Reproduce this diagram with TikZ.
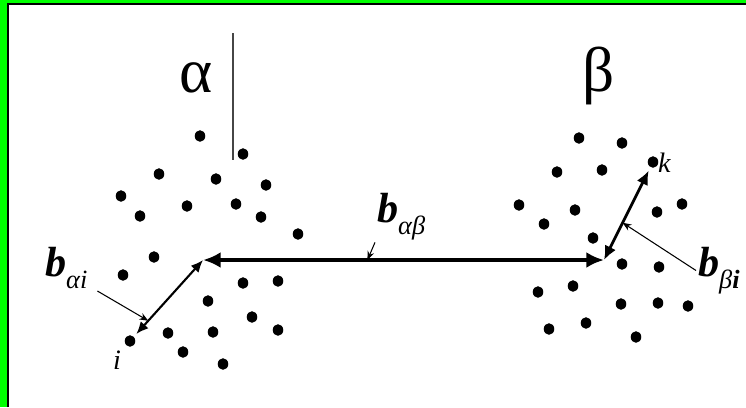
\documentclass[tikz,border=0pt]{standalone}
\usepackage{fontspec}
\setmainfont{Liberation Serif}
\usetikzlibrary{arrows.meta,calc,shapes.geometric}
\definecolor{framegreen}{RGB}{0,255,0}
\definecolor{rulegray}{RGB}{70,70,70}

\begin{document}
\begin{tikzpicture}[x=0.02cm,y=-0.02cm,
  atom/.style={ellipse,fill=black,inner sep=0pt,minimum width=6pt,minimum height=6.6pt},
  greek/.style={font=\fontsize{36}{40}\selectfont,inner sep=1pt},
  vlabel/.style={font=\fontsize{24}{28}\selectfont,inner sep=1pt,anchor=base west},
  slabel/.style={font=\fontsize{16}{18}\selectfont\itshape,inner sep=1pt},
  pointer/.style={->,>={Stealth[length=5pt,width=4pt]},line width=0.6pt}]
  \useasboundingbox (0,0) rectangle (746,407);
  % frame
  \fill[framegreen] (0,0) rectangle (746,3.5);
  \fill[framegreen] (0,0) rectangle (7.5,407);
  \draw[line width=0.8pt] (8,407) -- (8,4) -- (746,4);

  \node[greek] (alpha) at (196,78) {α};
  \node[greek] (beta) at (599,76) {β};
  \draw[rulegray,line width=0.7pt] (233,33) -- (233,160);

  % cluster alpha
  \foreach \x/\y [count=\n] in {200/136, 243/154, 159/174, 216/179, 266/185,
      121/196, 187/206, 236/204, 140/216, 261/217, 298/234, 154/257, 123/275,
      243/283, 278/281, 208/301, 252/317, 278/330, 168/333, 213/332, 183/352,
      223/364}
    \node[atom] (a\n) at (\x,\y) {};
  \node[atom] (i) at (130,341) {};
  % cluster beta
  \foreach \x/\y [count=\n] in {579/138, 622/143, 557/172, 602/170, 519/205,
      575/210, 657/212, 682/204, 544/224, 593/238, 622/264, 659/267, 538/292,
      573/286, 621/304, 658/303, 688/306, 549/329, 586/323, 636/337}
    \node[atom] (b\n) at (\x,\y) {};
  \node[atom] (k) at (653,162) {};

  \node[slabel] (ilab) at (117,360) {i};
  \node[slabel,anchor=west] (klab) at (656,163) {k};

  \coordinate (ca) at (203,260);
  \coordinate (cb) at (604,260);
  \draw[line width=2.2pt,{Latex[length=10pt,width=9pt]}-{Latex[length=10pt,width=9pt]}] (ca) -- (cb);
  \draw[line width=1.2pt,{Latex[length=7pt,width=6pt]}-{Latex[length=7pt,width=6pt]},
        shorten <=2pt] (i) -- (ca);
  \draw[line width=1.6pt,{Latex[length=8pt,width=7pt]}-{Latex[length=8pt,width=7pt]},
        shorten >=2pt] (cb) -- (k);

  \node[vlabel] (lai) at (43,276)
    {\textbf{\textit{b}}\raisebox{-0.3em}{\fontsize{15}{17}\selectfont\textit{αi}}};
  \node[vlabel] (lab) at (375,222)
    {\textbf{\textit{b}}\raisebox{-0.3em}{\fontsize{15}{17}\selectfont\textit{αβ}}};
  \node[vlabel] (lbi) at (696,276)
    {\textbf{\textit{b}}\raisebox{-0.3em}{\fontsize{15}{17}\selectfont\textit{β\textbf{i}}}};

  \draw[pointer] ([shift={(8,0)}]lai.south east) -- ($(ca)!0.75!(i)$);
  \draw[pointer] (lab.south west) -- ($(ca)!0.41!(cb)$);
  \draw[pointer] (lbi.west) -- ($(cb)!0.38!(k)$);
\end{tikzpicture}
\end{document}
